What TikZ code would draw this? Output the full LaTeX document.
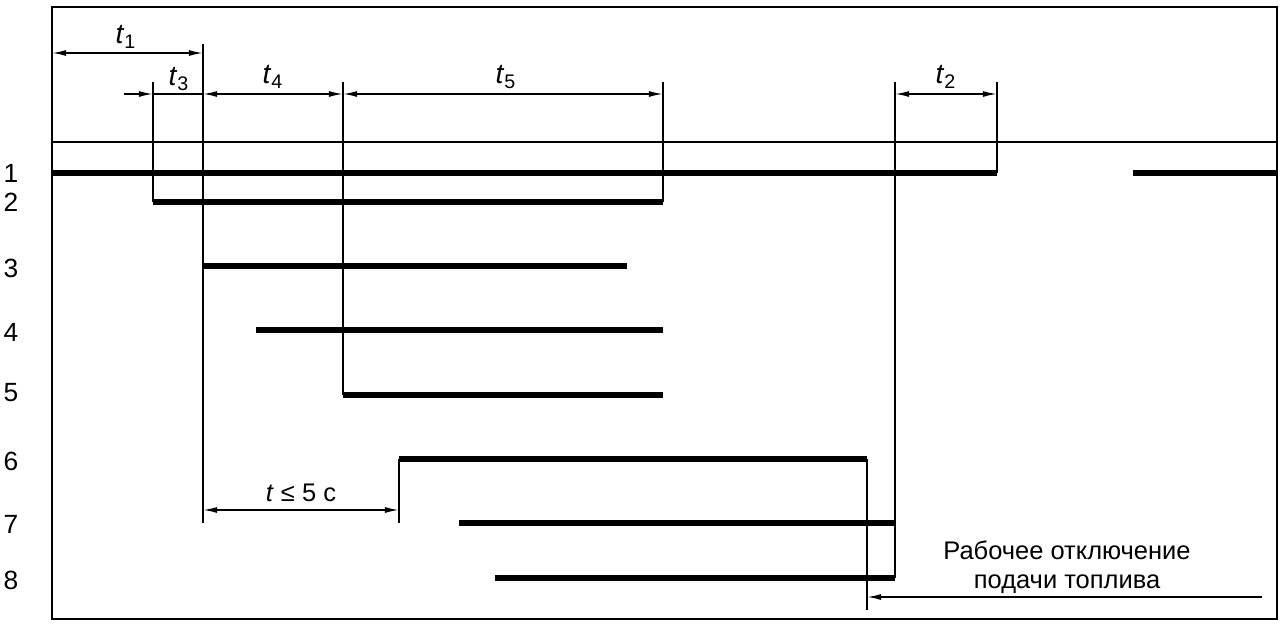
\documentclass[tikz,border=0pt]{standalone}
\usepackage{fontspec}
\setmainfont{Liberation Sans}
\usetikzlibrary{arrows.meta}

\begin{document}
\begin{tikzpicture}[x=0.02cm,y=-0.02cm,
    >={Latex[length=8pt,width=3.4pt]},
    signal/.style = {line width=3.2pt},
    guide/.style  = {line width=1.1pt},
    dim/.style    = {line width=0.9pt,<->},
    tlabel/.style = {font=\fontsize{16}{18}\selectfont,inner sep=0pt},
    rowlabel/.style = {font=\fontsize{15}{17}\selectfont,inner sep=0pt},
    note/.style   = {font=\fontsize{14.5}{16.5}\selectfont,inner sep=0pt}
  ]
  \useasboundingbox (0,0) rectangle (1285,627);
  % frame
  \draw[guide] (52,7) rectangle (1277,619);
  \draw[guide] (52,142) -- (1277,142);
  % row numbers
  \foreach \n/\y in {1/173,2/202,3/268,4/332,5/393,6/461,7/524,8/580}
    \node[rowlabel] (row\n) at (11,\y) {\n};
  % extension lines
  \draw[guide] (153,82) -- (153,202);
  \draw[guide] (203,44) -- (203,523);
  \draw[guide] (343,82) -- (343,395);
  \draw[guide] (663,82) -- (663,202);
  \draw[guide] (399,459) -- (399,523);
  \draw[guide] (867,459) -- (867,610);
  \draw[guide] (895,82) -- (895,578);
  \draw[guide] (997,82) -- (997,173);
  % signals
  \draw[signal] (52,173) -- (997,173);
  \draw[signal] (1133,173) -- (1277,173);
  \draw[signal] (153,202) -- (663,202);
  \draw[signal] (203,266) -- (627,266);
  \draw[signal] (256,330) -- (663,330);
  \draw[signal] (343,395) -- (663,395);
  \draw[signal] (399,459) -- (867,459);
  \draw[signal] (459,523) -- (895,523);
  \draw[signal] (495,578) -- (895,578);
  % dimensions
  \draw[dim] (52,53) -- (203,53);
  \node[tlabel] (t1) at (126,37) {\textit{t}\textsubscript{1}};
  \draw[line width=0.9pt,->] (124,94) -- (153,94);
  \draw[line width=0.9pt] (153,94) -- (203,94);
  \node[tlabel] (t3) at (179,79) {\textit{t}\textsubscript{3}};
  \draw[dim] (203,94) -- (343,94);
  \node[tlabel] (t4) at (273,77) {\textit{t}\textsubscript{4}};
  \draw[dim] (343,94) -- (663,94);
  \node[tlabel] (t5) at (506,77) {\textit{t}\textsubscript{5}};
  \draw[dim] (895,94) -- (997,94);
  \node[tlabel] (t2) at (946,77) {\textit{t}\textsubscript{2}};
  \draw[dim] (203,510) -- (399,510);
  \node[note] (tmax) at (301,493) {\textit{t} ≤ 5 с};
  % fuel cut-off
  \draw[line width=0.9pt,<-] (867,597) -- (1262,597);
  \node[note,align=center] (cutoff) at (1067,567)
    {Рабочее отключение\\подачи топлива};
\end{tikzpicture}
\end{document}
